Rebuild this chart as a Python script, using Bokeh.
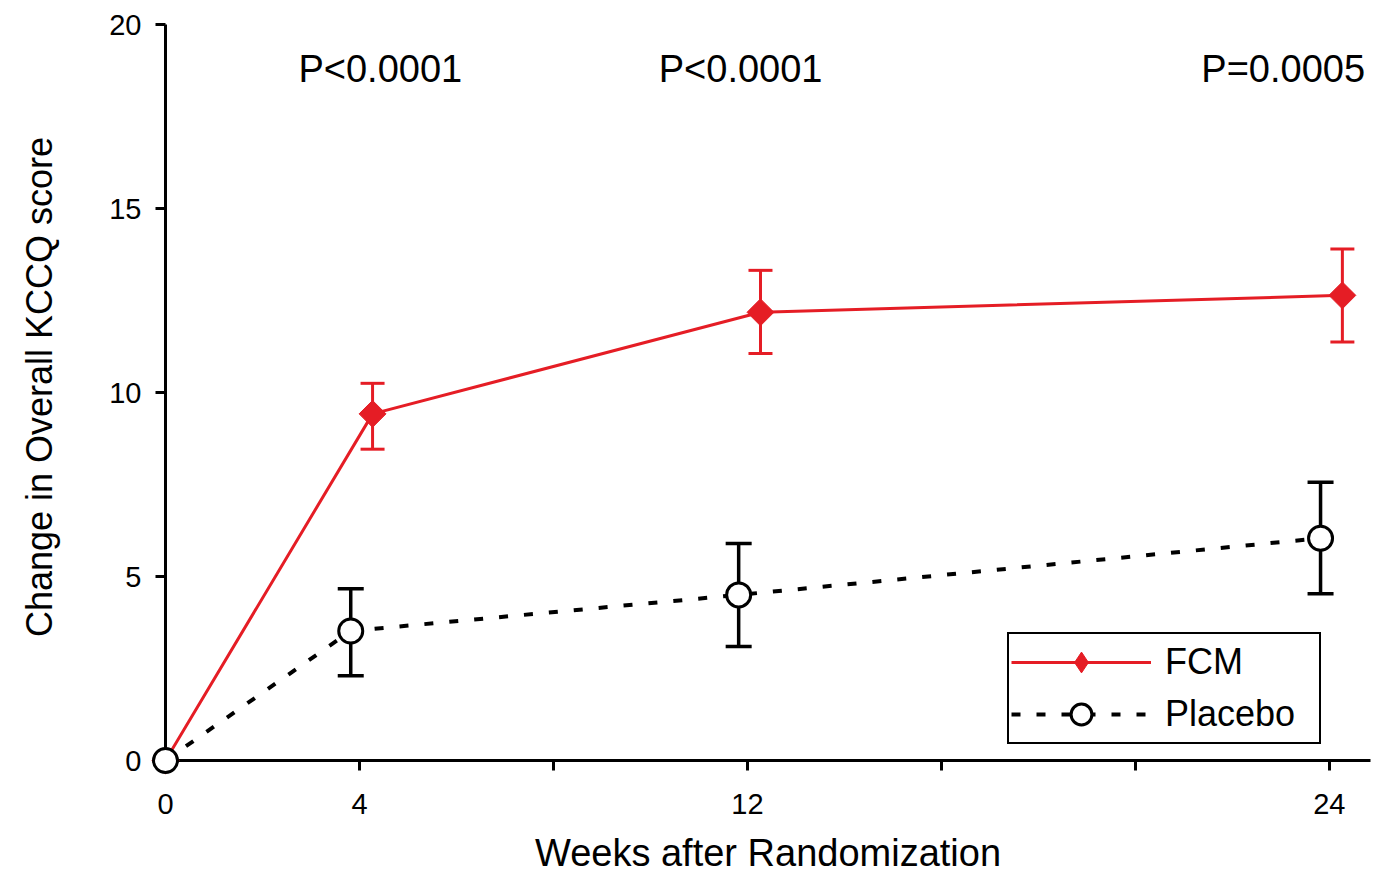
import math
from bokeh.plotting import figure
from bokeh.models import (ColumnDataSource, Whisker, TeeHead, Legend, LegendItem,
                          FixedTicker, Range1d, Label)
from bokeh.embed import file_html
from bokeh.resources import INLINE

# ---------------- data ----------------
weeks = [0, 4, 12, 24]
fcm_mean = [0.0, 9.42, 12.18, 12.64]
fcm_upper = [0.0, 10.25, 13.32, 13.9]
fcm_lower = [0.0, 8.46, 11.06, 11.37]
placebo_mean = [0.0, 3.52, 4.5, 6.04]
placebo_upper = [0.0, 4.67, 5.9, 7.56]
placebo_lower = [0.0, 2.3, 3.1, 4.53]

series_names = ["FCM", "Placebo"]
p_labels = ["P<0.0001", "P<0.0001", "P=0.0005"]
p_label_x = [4.43, 11.86, 23.05]
p_label_y = 18.8

x_tick_values = [0, 4, 8, 12, 16, 20, 24]
x_tick_labels = ["0", "4", "", "12", "", "", "24"]
y_tick_values = [0, 5, 10, 15, 20]
x_title = "Weeks after Randomization"
y_title = "Change in Overall KCCQ score"

# layout / style
FONT = "Liberation Sans"
RED = "#e51d25"
FCM_DODGE = 0.27
PLACEBO_DODGE = -0.18
X_END = 24.85
Y_END = 20.3


def dodge(ws, off):
    return [w + off if w > 0 else w for w in ws]


fcm_src = ColumnDataSource(dict(x=dodge(weeks, FCM_DODGE), y=fcm_mean))
pl_src = ColumnDataSource(dict(x=dodge(weeks, PLACEBO_DODGE), y=placebo_mean))

idx = [i for i, w in enumerate(weeks) if w > 0]
fcm_err_src = ColumnDataSource(dict(x=[dodge(weeks, FCM_DODGE)[i] for i in idx],
                                    upper=[fcm_upper[i] for i in idx],
                                    lower=[fcm_lower[i] for i in idx]))
pl_err_src = ColumnDataSource(dict(x=[dodge(weeks, PLACEBO_DODGE)[i] for i in idx],
                                   upper=[placebo_upper[i] for i in idx],
                                   lower=[placebo_lower[i] for i in idx]))

p = figure(frame_width=1205, frame_height=747,
           x_range=Range1d(0, X_END), y_range=Range1d(0, Y_END),
           output_backend="svg", toolbar_location=None,
           min_border_left=165, min_border_right=2,
           min_border_top=13, min_border_bottom=10)
p.outline_line_color = None
p.grid.visible = False
p.background_fill_color = "white"
p.border_fill_color = "white"

# ---------------- axes ----------------
xa = p.xaxis[0]
xa.bounds = (0, X_END)
xa.ticker = FixedTicker(ticks=x_tick_values)
xa.major_label_overrides = {v: l for v, l in zip(x_tick_values, x_tick_labels)}
xa.minor_tick_line_color = None
xa.major_tick_in = 0
xa.major_tick_out = 10
xa.axis_line_width = 3
xa.major_tick_line_width = 3
xa.axis_line_color = "black"
xa.major_tick_line_color = "black"
xa.major_label_text_font = FONT
xa.major_label_text_font_size = "29px"
xa.major_label_text_color = "black"
xa.major_label_standoff = 23
xa.axis_label = x_title
xa.axis_label_text_font = FONT
xa.axis_label_text_font_size = "38px"
xa.axis_label_text_font_style = "normal"
xa.axis_label_text_color = "black"
xa.axis_label_standoff = 15

ya = p.yaxis[0]
ya.bounds = (0, 20)
ya.ticker = FixedTicker(ticks=y_tick_values)
ya.minor_tick_line_color = None
ya.major_tick_in = 0
ya.major_tick_out = 10
ya.axis_line_width = 3
ya.major_tick_line_width = 3
ya.axis_line_color = "black"
ya.major_tick_line_color = "black"
ya.major_label_text_font = FONT
ya.major_label_text_font_size = "29px"
ya.major_label_text_color = "black"
ya.major_label_standoff = 14
ya.axis_label = y_title
ya.axis_label_text_font = FONT
ya.axis_label_text_font_size = "36px"
ya.axis_label_text_font_style = "normal"
ya.axis_label_text_color = "black"
ya.axis_label_standoff = 46

# ---------------- error bars ----------------
fcm_wh = Whisker(source=fcm_err_src, base="x", upper="upper", lower="lower",
                 line_color=RED, line_width=3, level="underlay",
                 upper_head=TeeHead(size=24, line_color=RED, line_width=3),
                 lower_head=TeeHead(size=24, line_color=RED, line_width=3))
pl_wh = Whisker(source=pl_err_src, base="x", upper="upper", lower="lower",
                line_color="black", line_width=3.5, level="underlay",
                upper_head=TeeHead(size=26, line_color="black", line_width=3.5),
                lower_head=TeeHead(size=26, line_color="black", line_width=3.5))
p.add_layout(fcm_wh)
p.add_layout(pl_wh)

# ---------------- lines + markers ----------------
fcm_line = p.line("x", "y", source=fcm_src, line_color=RED, line_width=3)
pl_line = p.line("x", "y", source=pl_src, line_color="black", line_width=4,
                 line_dash="9 16")
# diamond proxy (hidden under the rotated squares) used for the legend glyph
fcm_legend_glyph = p.scatter("x", "y", source=fcm_src, marker="diamond", size=24,
                             fill_color=RED, line_color=RED, line_width=1)
fcm_pts = p.scatter("x", "y", source=fcm_src, marker="square", size=19,
                    angle=math.pi / 4, fill_color=RED, line_color=RED, line_width=1)
pl_pts = p.scatter("x", "y", source=pl_src, marker="circle", size=24,
                   fill_color="white", line_color="black", line_width=3)
for r in (fcm_legend_glyph, fcm_pts, pl_pts):
    r.level = "overlay"

# ---------------- p-value labels ----------------
for txt, xx in zip(p_labels, p_label_x):
    p.add_layout(Label(x=xx, y=p_label_y, text=txt, text_align="center",
                       text_baseline="middle", text_font=FONT,
                       text_font_size="38px", text_color="black"))

# ---------------- legend ----------------
legend = Legend(items=[LegendItem(label=series_names[0], renderers=[fcm_line, fcm_legend_glyph]),
                       LegendItem(label=series_names[1], renderers=[pl_line, pl_pts])],
                location=(842, 16), orientation="vertical",
                glyph_width=140, glyph_height=52, label_height=52, label_width=152,
                spacing=0, padding=2, margin=0, label_standoff=14,
                label_text_font=FONT, label_text_font_size="36px",
                label_text_color="black",
                border_line_color="black", border_line_alpha=1.0, border_line_width=2,
                background_fill_color="white", background_fill_alpha=1.0)
p.add_layout(legend)

open("out.html", "w").write(file_html(p, INLINE))
